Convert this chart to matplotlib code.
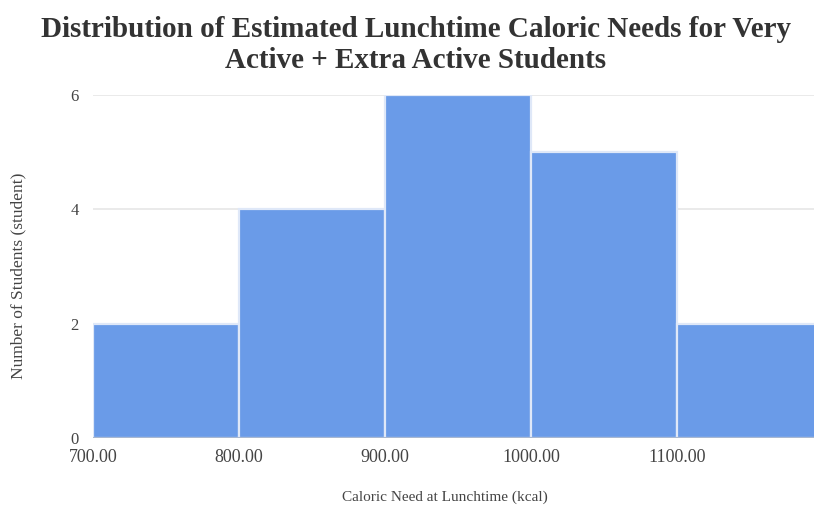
import matplotlib
matplotlib.use("Agg")
import matplotlib.pyplot as plt

# Histogram of estimated lunchtime caloric needs
bin_edges = [700, 800, 900, 1000, 1100, 1200]
counts = [2, 4, 6, 5, 2]
x_ticks = [700, 800, 900, 1000, 1100]
y_ticks = [0, 2, 4, 6]

title = "Distribution of Estimated Lunchtime Caloric Needs for Very\nActive + Extra Active Students"
x_label = "Caloric Need at Lunchtime (kcal)"
y_label = "Number of Students (student)"

serif = ["Liberation Serif", "DejaVu Serif"]
bar_color = "#6a9be8"
tick_color = "#444444"

fig = plt.figure(figsize=(8.14, 5.11), dpi=100)
ax = fig.add_axes([0.114, 0.143, 0.886, 0.671])

lefts = bin_edges[:-1]
widths = [b - a for a, b in zip(bin_edges[:-1], bin_edges[1:])]
ax.bar(lefts, counts, width=widths, align="edge", color=bar_color,
       edgecolor="#dfe8f8", linewidth=1.6, zorder=3)

ax.set_xlim(700, 1193.8)
ax.set_ylim(0, 6)
ax.set_xticks(x_ticks)
ax.set_xticklabels([f"{v:.2f}" for v in x_ticks], family=serif,
                   fontsize=13, color=tick_color)
ax.set_yticks(y_ticks)
ax.set_yticklabels([str(v) for v in y_ticks], family=serif,
                   fontsize=12, color=tick_color)
ax.tick_params(axis="x", length=0, pad=8)
ax.tick_params(axis="y", length=0, pad=10)

ax.grid(axis="y", color="#e6e6e6", linewidth=1.2, zorder=0)
ax.axhline(0, color="#a9b8d0", linewidth=1.5, zorder=4)
for side in ax.spines.values():
    side.set_visible(False)

fig.text(445 / 814, 1 - 497 / 511, x_label, ha="center", va="center",
         family=serif, fontsize=11, color=tick_color)
fig.text(18 / 814, 1 - 276 / 511, y_label, ha="center", va="center",
         rotation=90, family=serif, fontsize=12.5, color=tick_color)

fig.text(0.511, 0.968, title, ha="center", va="top", family=serif,
         fontsize=21, fontweight="bold", color="#333333", linespacing=1.15)

fig.savefig("out.png", dpi=100)
